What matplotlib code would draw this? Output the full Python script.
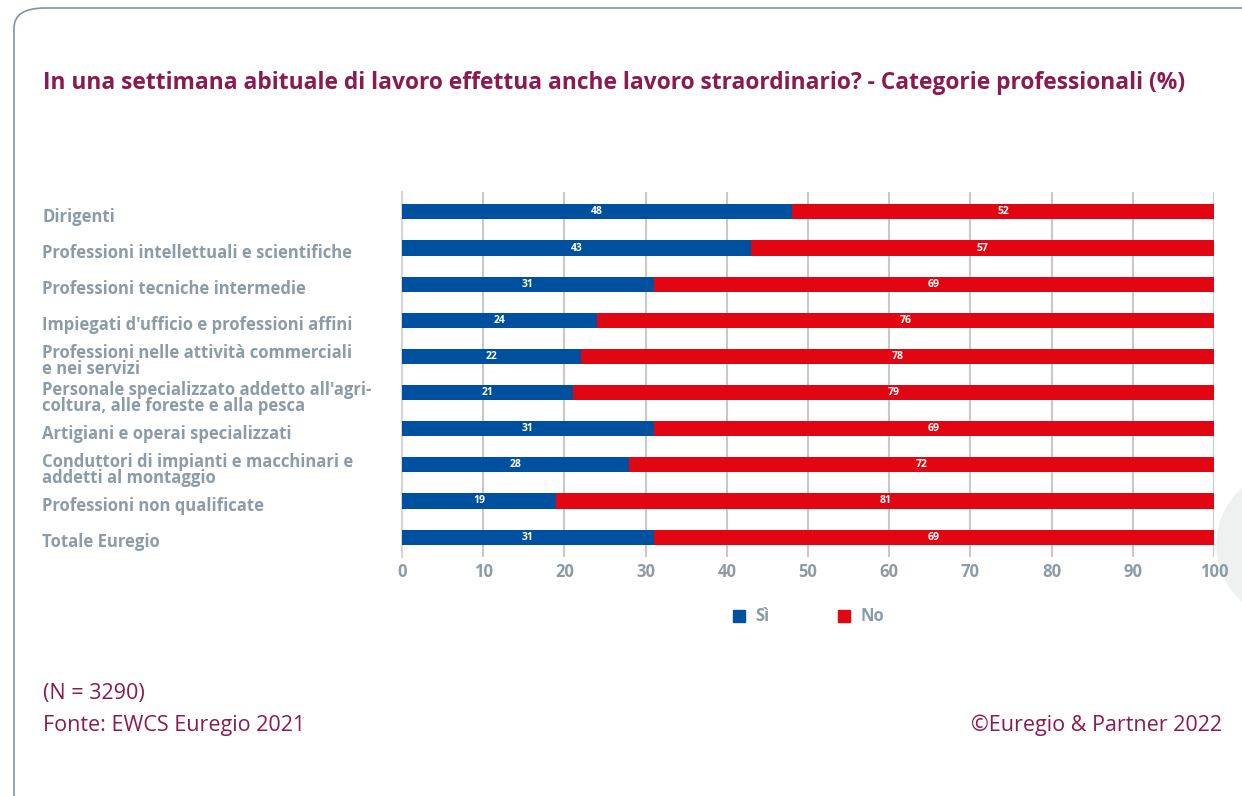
import matplotlib.pyplot as plt
from matplotlib.patches import FancyBboxPatch, Rectangle, Ellipse

categorie = [
    "Dirigenti",
    "Professioni intellettuali e scientifiche",
    "Professioni tecniche intermedie",
    "Impiegati d'ufficio e professioni affini",
    "Professioni nelle attività commerciali\ne nei servizi",
    "Personale specializzato addetto all'agri-\ncoltura, alle foreste e alla pesca",
    "Artigiani e operai specializzati",
    "Conduttori di impianti e macchinari e\naddetti al montaggio",
    "Professioni non qualificate",
    "Totale Euregio",
]
si = [48, 43, 31, 24, 22, 21, 31, 28, 19, 31]
no = [52, 57, 69, 76, 78, 79, 69, 72, 81, 69]
ticks = [0, 10, 20, 30, 40, 50, 60, 70, 80, 90, 100]

BLU = "#0050a0"
ROSSO = "#e20613"
GRIGIO = "#8c9ca6"
VIOLA = "#8b1a50"

plt.rcParams["font.family"] = ["Open Sans", "DejaVu Sans"]

W, H = 1242, 796
fig = plt.figure(figsize=(W / 100, H / 100), dpi=100)

# cornice arrotondata
cornice = FancyBboxPatch((14 / W, -0.05), 1.2, 1.05 - 8 / H,
                         boxstyle="round,pad=0,rounding_size=0.025",
                         transform=fig.transFigure, fill=False,
                         edgecolor="#7f95a0", linewidth=1.2)
fig.patches.append(cornice)
fig.patches.append(Ellipse((1292 / W, 1 - 545 / H), 150 / W, 150 / H,
                           transform=fig.transFigure, color="#eff1f1",
                           zorder=0))

ax = fig.add_axes([402 / W, 1 - 557 / H, 812 / W, 365 / H])
ax.set_zorder(2)
ax.patch.set_alpha(0)
y = list(range(len(categorie)))
ax.barh(y, si, height=0.42, color=BLU, zorder=3)
ax.barh(y, no, left=si, height=0.42, color=ROSSO, zorder=3)

for i in y:
    ax.text(si[i] / 2, i, str(si[i]), ha="center", va="center",
            color="white", fontsize=7.5, fontweight="bold", zorder=4)
    ax.text(si[i] + no[i] / 2, i, str(no[i]), ha="center", va="center",
            color="white", fontsize=7.5, fontweight="bold", zorder=4)

ax.set_xlim(0, 100)
ax.set_ylim(9.55, -0.55)
ax.set_xticks(ticks)
ax.set_xticklabels([str(t) for t in ticks], color=GRIGIO, fontsize=12,
                   fontweight="bold")
ax.tick_params(axis="x", length=0, pad=4)
ax.set_yticks([])
ax.grid(axis="x", color="#c8c8c8", linewidth=1.5, zorder=0)
for s in ["top", "right", "bottom"]:
    ax.spines[s].set_visible(False)
ax.spines["left"].set_color("#d6d6d6")
ax.spines["left"].set_linewidth(1.5)

# etichette delle categorie, leggermente sotto il centro della barra
for i, c in enumerate(categorie):
    yf = ax.transData.transform((0, i))[1] - 5
    fig.text(42 / W, yf / H, c, ha="left", va="center", color=GRIGIO,
             fontsize=12, fontweight="bold", linespacing=0.85)

fig.text(43 / W, 1 - 83 / H,
         "In una settimana abituale di lavoro effettua anche lavoro straordinario? - Categorie professionali (%)",
         ha="left", va="center", color=VIOLA, fontsize=16.4, fontweight="bold")

# legenda
fig.patches.append(Rectangle((733 / W, 1 - 622 / H), 12 / W, 12 / H,
                             transform=fig.transFigure, color=BLU))
fig.text(755 / W, 1 - 616 / H, "Sì", ha="left", va="center",
         color=GRIGIO, fontsize=12, fontweight="bold")
fig.patches.append(Rectangle((838 / W, 1 - 622 / H), 12 / W, 12 / H,
                             transform=fig.transFigure, color=ROSSO))
fig.text(861 / W, 1 - 616 / H, "No", ha="left", va="center",
         color=GRIGIO, fontsize=12, fontweight="bold")

fig.text(43 / W, 1 - 694 / H, "(N = 3290)", ha="left", va="center",
         color=VIOLA, fontsize=15.5)
fig.text(43 / W, 1 - 725 / H, "Fonte: EWCS Euregio 2021", ha="left",
         va="center", color=VIOLA, fontsize=15.5)
fig.text(1222 / W, 1 - 725 / H, "©Euregio & Partner 2022", ha="right",
         va="center", color=VIOLA, fontsize=15.5)

fig.savefig("out.png", dpi=100)
